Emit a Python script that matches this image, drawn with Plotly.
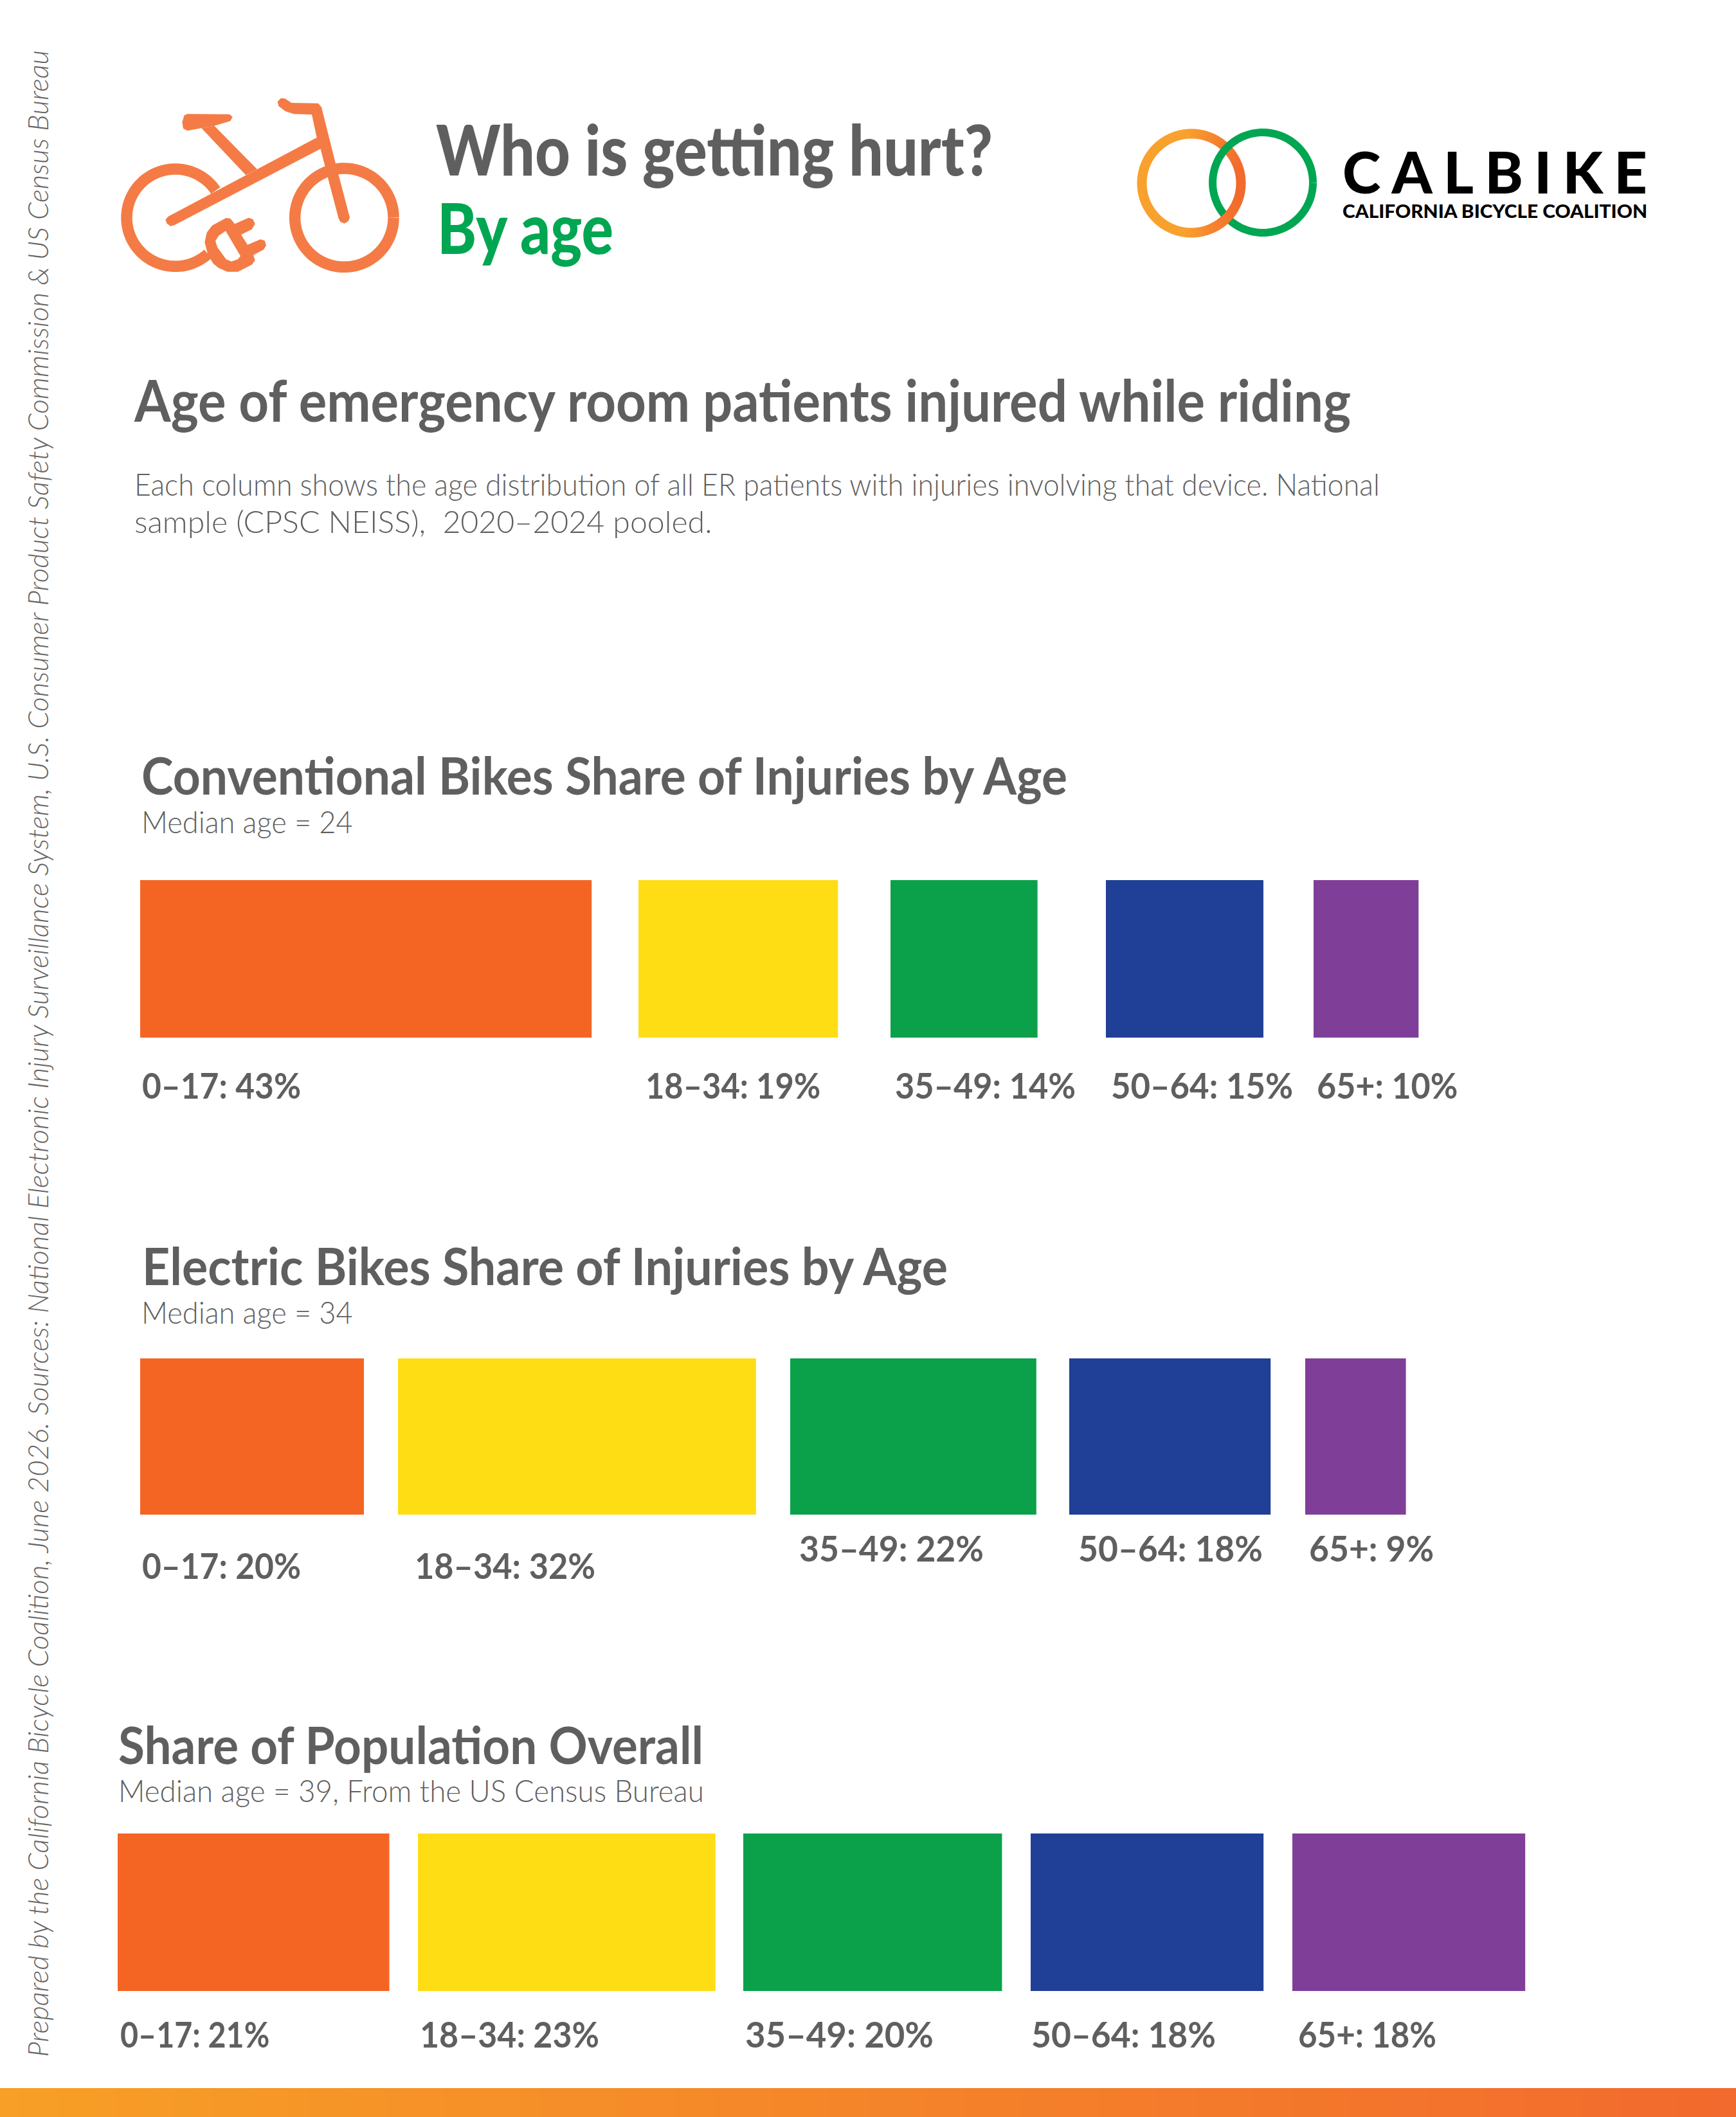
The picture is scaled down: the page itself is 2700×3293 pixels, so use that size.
import json
import numpy as np
import plotly.graph_objects as go

# ---------- data ----------
age_groups = ["0–17", "18–34", "35–49", "50–64", "65+"]
conventional_share = [43, 19, 14, 15, 10]
electric_share = [20, 32, 22, 18, 9]
population_share = [21, 23, 20, 18, 18]
section_titles = ["Conventional Bikes Share of Injuries by Age",
                  "Electric Bikes Share of Injuries by Age",
                  "Share of Population Overall"]
section_notes = ["Median age = 24", "Median age = 34",
                 "Median age = 39, From the US Census Bureau"]

# ---------- layout constants (pixels) ----------
W, H = 2700, 3293
COLORS = ["#f46524", "#ffdd15", "#0ba14b", "#203f96", "#7f3f98"]
GREY = "#5f5f5f"
FONT = "Lato"
PX_PER_PCT = [16.33, 17.4, 20.12]
ROW_LEFTS = [[218, 993, 1385, 1720, 2043],
             [218, 619, 1229, 1663, 2030],
             [183, 650, 1156, 1603, 2010]]
ROW_TOPS = [(1369, 1614), (2113, 2356), (2852, 3097)]
LABEL_X = [[220, 1003, 1391, 1727, 2047],
           [220, 644, 1242, 1676, 2035],
           [186, 652, 1158, 1603, 2018]]
LABEL_BASE = [[1708] * 5,
              [2455, 2455, 2428, 2428, 2428],
              [3184] * 5]
LABEL_FIT = [[.936, .92, .95, .957, .945],
             [.936, .95, .97, .97, .97],
             [.88, .943, .99, .97, .927]]
TITLE_POS = [(219, 1233), (220, 1996), (183, 2741)]
TITLE_FIT = [.937, .943, .933]
NOTE_POS = [(219, 1295), (219, 2058), (183, 2802)]
NOTE_FIT = [.94, .94, .952]

px = lambda x: x / W
py = lambda y: 1 - y / H

annotations = []
FIT = []   # horizontal fitting for each annotation: [target, mode, keep anchor]


def text(s, x, base, size, color=GREY, weight=700, style="normal", fit=None, mode="spacingAndGlyphs"):
    annotations.append(dict(
        text=s, x=px(x), y=py(base + 0.26 * size), xref="paper", yref="paper",
        xanchor="left", yanchor="bottom", showarrow=False, borderpad=0,
        font=dict(family=FONT, size=size, color=color, weight=weight, style=style)))
    FIT.append([fit, mode, False])


fig = go.Figure()
shapes = []

# ---------- bars ----------
rows = [conventional_share, electric_share, population_share]
for i, values in enumerate(rows):
    scale = PX_PER_PCT[i]
    top, bottom = ROW_TOPS[i]
    suffix = "" if i == 0 else str(i + 1)
    fig.add_trace(go.Bar(
        orientation="h", x=values, y=[0] * 5, width=1,
        base=[l / scale for l in ROW_LEFTS[i]],
        marker=dict(color=COLORS, line=dict(width=0)),
        customdata=age_groups, hovertemplate="%{customdata}: %{x}%<extra></extra>",
        showlegend=False, xaxis="x" + suffix, yaxis="y" + suffix))
    axis = dict(visible=False, fixedrange=True)
    fig.layout["xaxis" + suffix] = dict(axis, domain=[0, 1], range=[0, W / scale],
                                        anchor="y" + suffix)
    fig.layout["yaxis" + suffix] = dict(axis, domain=[py(bottom), py(top)], range=[-0.5, 0.5],
                                        anchor="x" + suffix)
    text(section_titles[i], *TITLE_POS[i], 80, fit=TITLE_FIT[i])
    text(section_notes[i], *NOTE_POS[i], 48, weight=300, fit=NOTE_FIT[i])
    for j, v in enumerate(values):
        text(f"{age_groups[j]}: {v}%", LABEL_X[i][j], LABEL_BASE[i][j], 55, fit=LABEL_FIT[i][j])

# ---------- headings ----------
text("Who is getting hurt?", 677, 269, 108, weight=900, fit=866)
text("By age", 679, 391, 108, color="#00a651", weight=900, fit=274)
text("Age of emergency room patients injured while riding", 207, 653, 90, fit=.906)
text("Each column shows the age distribution of all ER patients with injuries involving that device. National",
     208, 770, 48, weight=300, fit=.931)
text("sample (CPSC NEISS),  2020–2024 pooled.", 208, 828, 48, weight=300, fit=1.005)
text("CALBIKE", 2087, 298, 90, color="#000000", weight=900, fit=474, mode="spacing")
text("CALIFORNIA BICYCLE COALITION", 2087, 339, 28, color="#000000", weight=900, fit=474)
annotations.append(dict(
    text="Prepared by the California Bicycle Coalition, June 2026. Sources: National Electronic Injury "
         "Surveillance System, U.S. Consumer Product Safety Commission &amp; US Census Bureau",
    x=px(58), y=py(1639), xref="paper", yref="paper", xanchor="center", yanchor="middle",
    textangle=-90, showarrow=False,
    font=dict(family=FONT, size=44, color="#666666", style="italic", weight=300)))
FIT.append([3122, "spacingAndGlyphs", True])


# ---------- decoration helpers ----------
def poly(points, color, close=True, line=None):
    d = "M" + " L".join(f"{px(x):.5f},{py(y):.5f}" for x, y in points) + (" Z" if close else "")
    return dict(type="path", path=d, xref="paper", yref="paper", layer="above",
                fillcolor=color if close else "rgba(0,0,0,0)",
                line=dict(width=line[0], color=line[1]) if line else dict(width=0))


def ring(cx, cy, r, a0, a1, n=90):
    t = np.radians(np.linspace(a0, a1, n))
    return [(cx + r * np.cos(a), cy + r * np.sin(a)) for a in t]


def mix(c1, c2, f):
    return "rgb(" + ",".join(str(int(round(a + (b - a) * f))) for a, b in zip(c1, c2)) + ")"


# ---------- bicycle icon ----------
BIKE = "#f47b46"
zb = lambda pts: [(170 + X / 3, 140 + Y / 3) for X, Y in pts]
(lx, ly), (rx, ry) = zb([(308, 596), (1096, 596)])
shapes.append(poly(ring(lx, ly, 75.7, 48, 326), BIKE, close=False, line=(17.5, BIKE)))
shapes.append(poly(ring(rx, ry, 76.7, 0, 360), BIKE, close=False, line=(17.5, BIKE)))
for pts in [
    [(430, 178), (490, 167), (690, 370), (637, 397)],
    [(350, 118), (365, 112), (560, 113), (575, 125), (565, 145), (490, 167), (430, 178),
     (365, 190), (345, 180), (340, 150)],
    [(262, 605), (275, 590), (968, 222), (990, 272), (305, 630), (285, 635), (268, 622)],
    [(785, 55), (800, 38), (820, 40), (850, 60), (975, 62), (990, 80), (1055, 340), (1122, 595),
     (1115, 612), (1097, 623), (1078, 615), (1070, 600), (1020, 410), (1005, 350), (985, 272),
     (968, 222), (945, 115), (860, 112), (820, 98), (790, 75)],
    [(460, 768), (445, 710), (455, 665), (480, 632), (545, 597), (565, 600), (585, 625), (650, 596),
     (670, 603), (680, 625), (665, 650), (615, 675), (645, 722), (705, 697), (725, 703), (732, 725),
     (720, 745), (672, 770), (680, 795), (665, 815), (600, 848), (550, 848), (510, 830), (485, 810)],
]:
    shapes.append(poly(zb(pts), BIKE))
shapes.append(poly(zb([(543, 658), (612, 775), (600, 790), (570, 800), (545, 790), (505, 735),
                       (495, 705), (510, 680)]), "#ffffff"))

# ---------- logo rings ----------
LO, RO = (249, 161, 45), (242, 106, 45)
OC = (1853, 285)
GC = (1964, 284)


def orange_arc(a0, a1, n):
    out = []
    edges = np.linspace(a0, a1, n + 1)
    for e0, e1 in zip(edges[:-1], edges[1:]):
        pts = ring(*OC, 77, e0, e1 + 0.5, 4)
        f = np.clip((pts[0][0] - (OC[0] - 10)) / 85, 0, 1)
        c = mix(LO, RO, f)
        out.append(poly(pts, c, close=False, line=(15, c)))
    return out


shapes += orange_arc(0, 360, 120)
shapes.append(poly(ring(*GC, 78, 0, 360), "#00a651", close=False, line=(12, "#00a651")))
shapes += orange_arc(30, 65, 14)

# ---------- bottom band ----------
N = 90
for k in range(N):
    shapes.append(dict(type="rect", xref="paper", yref="paper", layer="below",
                       x0=k / N, x1=(k + 1.2) / N, y0=0, y1=py(3248),
                       fillcolor=mix((247, 159, 38), (242, 106, 45), k / (N - 1)),
                       line=dict(width=0)))

fig.update_layout(width=W, height=H, margin=dict(l=0, r=0, t=0, b=0, pad=0),
                  paper_bgcolor="#ffffff", plot_bgcolor="rgba(0,0,0,0)",
                  showlegend=False, annotations=annotations, shapes=shapes,
                  barmode="overlay", hovermode="closest")

post = """
document.body.style.margin = '0';
var FIT = %s;
document.querySelectorAll('.annotation-text').forEach(function (e, i) {
  var f = FIT[i];
  if (!f || f[0] === null) { return; }
  var w = e.getComputedTextLength();
  var target = f[0] < 5 ? w * f[0] : f[0];
  var rect = e.parentNode.querySelector('rect');
  if (!f[2]) {
    e.setAttribute('x', parseFloat(e.getAttribute('x') || 0) - w / 2);
    e.style.textAnchor = 'start';
  } else if (rect) {
    rect.setAttribute('x', parseFloat(rect.getAttribute('x') || 0) + (w - target) / 2);
  }
  if (rect) { rect.setAttribute('width', target); }
  e.setAttribute('textLength', target);
  e.setAttribute('lengthAdjust', f[1]);
});
""" % json.dumps(FIT)
fig.write_html("out.html", post_script=post, config={"displayModeBar": False})
